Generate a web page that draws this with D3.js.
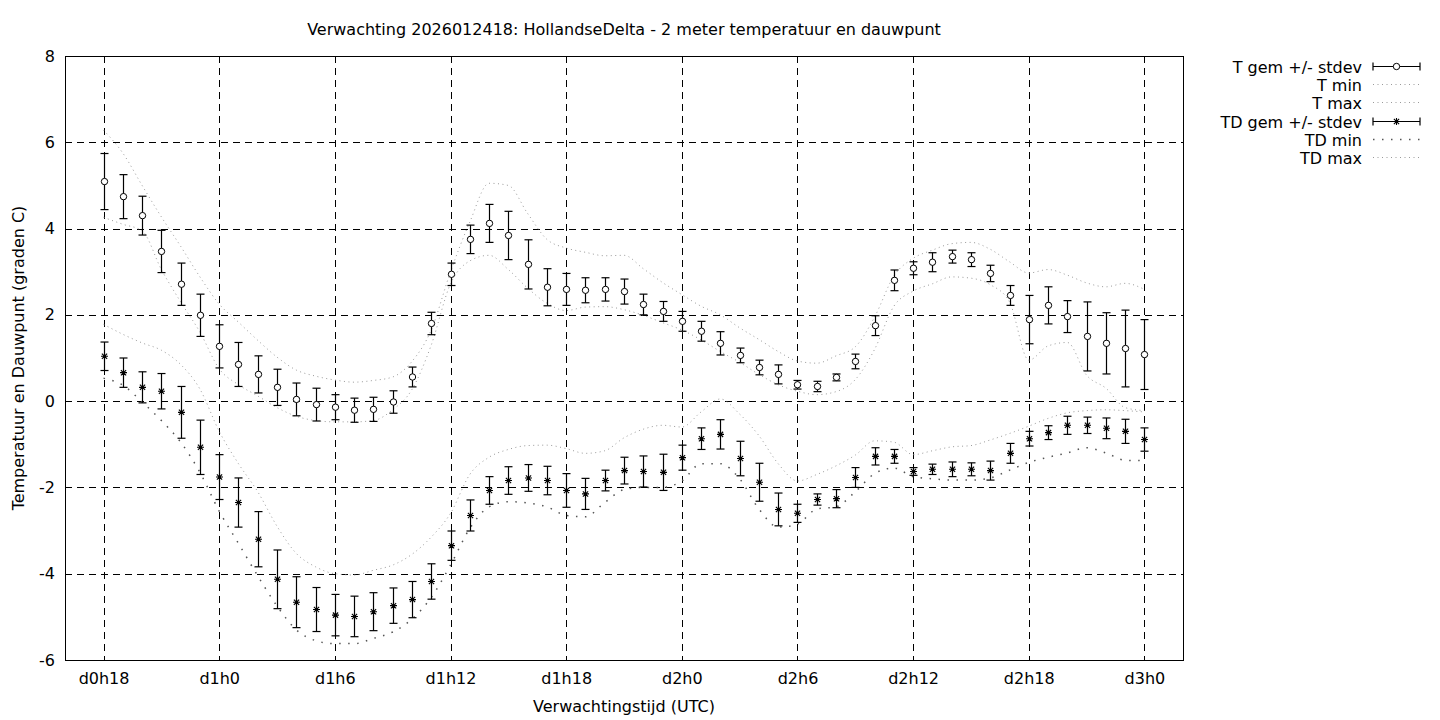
<!DOCTYPE html>
<html>
<head>
<meta charset="utf-8">
<script src="https://cdn.jsdelivr.net/npm/d3@7"></script>
<style>
  body { margin: 0; background: #fff; }
  text { font-family: "DejaVu Sans", sans-serif; font-size: 16px; fill: #000; }
</style>
</head>
<body>
<svg id="chart" width="1440" height="720"></svg>
<script>
// forecast hours since d0h0
const hours = [18,19,20,21,22,23,24,25,26,27,28,29,30,31,32,33,34,35,36,37,38,39,40,41,42,43,44,45,
               46,47,48,49,50,51,52,53,54,55,56,57,58,59,60,61,62,63,64,65,66,67,68,69,70,71,72];

// T mean and stdev
const tGem = [5.09,4.74,4.30,3.47,2.71,1.99,1.27,0.85,0.62,0.32,0.04,-0.08,-0.14,-0.21,-0.19,-0.02,0.56,1.80,
              2.94,3.75,4.12,3.84,3.17,2.64,2.59,2.57,2.59,2.54,2.24,2.08,1.85,1.62,1.34,1.06,0.78,0.62,0.38,0.34,
              0.55,0.92,1.75,2.80,3.08,3.22,3.35,3.28,2.96,2.45,1.89,2.22,1.96,1.50,1.34,1.22,1.08];
const tStd = [0.65,0.51,0.45,0.49,0.49,0.49,0.50,0.51,0.43,0.42,0.38,0.38,0.29,0.28,0.28,0.26,0.23,0.26,
              0.26,0.33,0.44,0.56,0.57,0.43,0.37,0.29,0.27,0.29,0.24,0.23,0.23,0.23,0.27,0.17,0.17,0.22,0.10,0.12,
              0.08,0.17,0.23,0.24,0.15,0.22,0.15,0.16,0.19,0.23,0.56,0.43,0.37,0.80,0.71,0.89,0.81];
const tMin = [4.26,4.10,3.95,3.05,2.30,1.60,0.75,0.38,0.12,-0.15,-0.35,-0.45,-0.48,-0.48,-0.45,-0.20,0.27,1.30,
              2.72,3.25,3.38,3.05,2.62,2.27,2.10,2.18,2.19,2.12,1.99,1.82,1.65,1.42,1.15,0.90,0.62,0.38,0.23,0.15,
              0.22,0.50,1.20,2.20,2.55,2.72,2.88,2.85,2.70,2.30,0.95,1.28,1.36,0.60,0.30,-0.15,-0.22];
const tMax = [6.28,5.75,5.00,4.27,3.59,2.88,2.25,1.83,1.41,1.02,0.72,0.58,0.49,0.44,0.48,0.56,0.92,1.65,
              3.00,4.15,5.05,5.00,4.35,3.75,3.55,3.45,3.37,3.38,3.07,2.75,2.47,2.20,2.00,1.70,1.43,1.15,0.93,0.88,
              1.05,1.26,1.95,2.90,3.31,3.50,3.65,3.68,3.52,3.23,2.97,3.05,2.92,2.74,2.65,2.73,2.59];

// TD (dew point) mean and stdev
const tdGem = [1.04,0.66,0.32,0.23,-0.26,-1.07,-1.76,-2.35,-3.20,-4.13,-4.66,-4.83,-4.96,-4.99,-4.88,-4.74,-4.60,-4.18,
               -3.35,-2.65,-2.07,-1.84,-1.78,-1.84,-2.07,-2.15,-1.84,-1.61,-1.63,-1.65,-1.31,-0.87,-0.77,-1.33,-1.88,-2.51,-2.60,-2.28,
               -2.26,-1.77,-1.28,-1.28,-1.63,-1.58,-1.58,-1.58,-1.61,-1.21,-0.87,-0.73,-0.56,-0.56,-0.63,-0.70,-0.89];
const tdStd = [0.33,0.34,0.36,0.41,0.60,0.63,0.52,0.57,0.64,0.68,0.59,0.51,0.48,0.47,0.44,0.41,0.42,0.41,
               0.34,0.36,0.32,0.32,0.31,0.33,0.39,0.36,0.24,0.31,0.36,0.42,0.29,0.25,0.34,0.40,0.44,0.38,0.21,0.13,
               0.21,0.23,0.20,0.16,0.09,0.12,0.17,0.15,0.22,0.23,0.17,0.16,0.21,0.19,0.24,0.28,0.27];
const tdMin = [0.53,0.37,-0.02,-0.45,-0.95,-1.65,-2.55,-3.30,-4.05,-4.75,-5.30,-5.55,-5.62,-5.62,-5.50,-5.35,-5.05,-4.55,
               -3.80,-2.95,-2.45,-2.33,-2.36,-2.45,-2.65,-2.68,-2.35,-2.05,-2.00,-2.00,-1.85,-1.45,-1.45,-1.80,-2.50,-2.92,-2.85,-2.50,
               -2.45,-2.10,-1.68,-1.55,-1.75,-1.80,-1.83,-1.83,-1.78,-1.60,-1.42,-1.30,-1.20,-1.08,-1.20,-1.37,-1.38];
const tdMax = [1.78,1.55,1.35,1.18,0.85,0.28,-0.70,-1.45,-2.10,-2.90,-3.53,-3.84,-4.00,-4.03,-3.92,-3.80,-3.55,-3.15,
               -2.60,-1.70,-1.30,-1.12,-1.03,-1.02,-1.10,-1.21,-1.15,-0.85,-0.65,-0.56,-0.60,-0.25,0.05,-0.30,-0.80,-1.45,-1.85,-1.70,
               -1.50,-1.25,-0.92,-0.95,-1.24,-1.15,-1.06,-1.03,-0.90,-0.75,-0.58,-0.40,-0.27,-0.22,-0.20,-0.22,-0.25];

// axis ticks
const xTicks = [18,24,30,36,42,48,54,60,66,72];
const xTickLabels = ["d0h18","d1h0","d1h6","d1h12","d1h18","d2h0","d2h6","d2h12","d2h18","d3h0"];
const yTicks = [-6,-4,-2,0,2,4,6,8];

const title = "Verwachting 2026012418: HollandseDelta - 2 meter temperatuur en dauwpunt";

//SVG setup
const margin = {top: 56, right: 257, bottom: 60, left: 65},
      width = 1440 - margin.left - margin.right,
      height = 720 - margin.top - margin.bottom;

const x = d3.scaleLinear().domain([16, 74]).range([0, width]);
const y = d3.scaleLinear().domain([-6, 8]).range([height, 0]);
const px = v => Math.round(x(v)) + 0.5;
const py = v => Math.round(y(v)) + 0.5;

const svg = d3.select("#chart");
const g = svg.append("g").attr("transform", `translate(${margin.left}, ${margin.top})`);

//grid
g.append("g").selectAll("line").data(xTicks).enter().append("line")
  .attr("x1", px).attr("x2", px).attr("y1", 0).attr("y2", height)
  .attr("stroke", "#000").attr("stroke-dasharray", "7,5");
g.append("g").selectAll("line").data(yTicks.slice(1, -1)).enter().append("line")
  .attr("y1", py).attr("y2", py).attr("x1", 0).attr("x2", width)
  .attr("stroke", "#000").attr("stroke-dasharray", "7,5");

//axes (no domain line: border drawn below)
const xAxis = g.append("g").attr("transform", `translate(0, ${height})`)
  .call(d3.axisBottom(x).tickValues(xTicks).tickFormat((d, i) => xTickLabels[i]).tickSize(0).tickPadding(13));
const yAxis = g.append("g")
  .call(d3.axisLeft(y).tickValues(yTicks).tickFormat(d => String(d)).tickSize(0).tickPadding(10));
[xAxis, yAxis].forEach(a => {
  a.select(".domain").remove();
  a.selectAll("text").attr("font-size", null).attr("font-family", null).style("fill", "#000");
});

//border
g.append("rect").attr("x", 0.5).attr("y", 0.5).attr("width", Math.round(width)).attr("height", Math.round(height))
  .attr("fill", "none").attr("stroke", "#000");

//min / max lines
const lineGen = vals => d3.line()
  .x((d, i) => x(hours[i])).y(d => y(d))
  .curve(d3.curveMonotoneX)(vals);

const lightDot = {stroke: "#9a9a9a", width: 1, dash: "1,3.5"};
const darkDot = {stroke: "#555", width: 1.5, dash: "1.5,7.5"};
const minmax = [
  {vals: tMin, style: lightDot},
  {vals: tMax, style: lightDot},
  {vals: tdMin, style: darkDot},
  {vals: tdMax, style: lightDot}
];
minmax.forEach(m => {
  g.append("path").attr("d", lineGen(m.vals))
    .attr("fill", "none").attr("stroke", m.style.stroke)
    .attr("stroke-width", m.style.width).attr("stroke-dasharray", m.style.dash);
});

//error bars
function errorBars(gem, std) {
  const eb = g.append("g").selectAll("g").data(hours).enter().append("g");
  eb.append("line")
    .attr("x1", d => px(d)).attr("x2", d => px(d))
    .attr("y1", (d, i) => y(gem[i] - std[i])).attr("y2", (d, i) => y(gem[i] + std[i]))
    .attr("stroke", "#000").attr("stroke-width", 1.2);
  [1, -1].forEach(s => {
    eb.append("line")
      .attr("x1", d => px(d) - 4).attr("x2", d => px(d) + 4)
      .attr("y1", (d, i) => y(gem[i] + s * std[i])).attr("y2", (d, i) => y(gem[i] + s * std[i]))
      .attr("stroke", "#000").attr("stroke-width", 1.2);
  });
}
errorBars(tGem, tStd);
errorBars(tdGem, tdStd);

//point symbols
const asterisk = (cx, cy, r) => {
  const a = r * 0.75;
  return `M${cx - r},${cy}L${cx + r},${cy}M${cx},${cy - r}L${cx},${cy + r}` +
         `M${cx - a},${cy - a}L${cx + a},${cy + a}M${cx - a},${cy + a}L${cx + a},${cy - a}`;
};
g.append("g").selectAll("circle").data(hours).enter().append("circle")
  .attr("cx", d => px(d)).attr("cy", (d, i) => y(tGem[i])).attr("r", 3.2)
  .attr("fill", "#fff").attr("stroke", "#000").attr("stroke-width", 1);
g.append("g").selectAll("path").data(hours).enter().append("path")
  .attr("d", (d, i) => asterisk(px(d), y(tdGem[i]), 3.5))
  .attr("stroke", "#000").attr("stroke-width", 1.1).attr("fill", "none");

//title and axis labels
svg.append("text").attr("x", margin.left + width / 2).attr("y", 35)
  .attr("text-anchor", "middle").text(title);
svg.append("text").attr("x", margin.left + width / 2).attr("y", 712)
  .attr("text-anchor", "middle").text("Verwachtingstijd (UTC)");
svg.append("text").attr("transform", `translate(24, ${margin.top + height / 2}) rotate(-90)`)
  .attr("text-anchor", "middle").text("Temperatuur en Dauwpunt (graden C)");

//legend
const legendItems = [
  {label: "T gem +/- stdev", type: "circle"},
  {label: "T min", type: "line", style: lightDot},
  {label: "T max", type: "line", style: lightDot},
  {label: "TD gem +/- stdev", type: "star"},
  {label: "TD min", type: "line", style: darkDot},
  {label: "TD max", type: "line", style: lightDot}
];
const lx0 = 1373, lx1 = 1420, ltext = 1362;
const legend = svg.append("g").selectAll("g").data(legendItems).enter().append("g")
  .attr("transform", (d, i) => `translate(0, ${Math.round(66 + i * 18.2) + 0.5})`);
legend.append("text").attr("x", ltext).attr("y", 6).attr("text-anchor", "end").text(d => d.label);
legend.each(function(d) {
  const s = d3.select(this);
  if (d.type === "line") {
    s.append("line").attr("x1", lx0).attr("x2", lx1).attr("y1", 0).attr("y2", 0)
      .attr("stroke", d.style.stroke).attr("stroke-width", d.style.width).attr("stroke-dasharray", d.style.dash);
  } else {
    s.append("path").attr("d", `M${lx0},0L${lx1},0M${lx0},-4L${lx0},4M${lx1},-4L${lx1},4`)
      .attr("stroke", "#000").attr("stroke-width", 1.2);
    const cx = (lx0 + lx1) / 2;
    if (d.type === "circle") {
      s.append("circle").attr("cx", cx).attr("cy", 0).attr("r", 3.2)
        .attr("fill", "#fff").attr("stroke", "#000");
    } else {
      s.append("path").attr("d", asterisk(cx, 0, 3.5)).attr("stroke", "#000").attr("stroke-width", 1.1);
    }
  }
});
</script>
</body>
</html>
